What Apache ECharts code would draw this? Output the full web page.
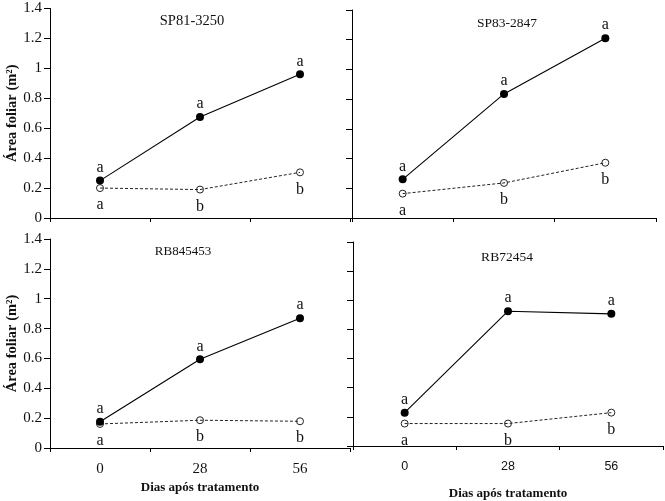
<!DOCTYPE html>
<html><head><meta charset="utf-8">
<script src="https://cdn.jsdelivr.net/npm/echarts@6/dist/echarts.min.js"></script>
<style>html,body{margin:0;padding:0;background:#fff}#c{width:665px;height:501px}</style>
</head><body><div id="c"></div>
<script>
var days = ['0', '28', '56'];
var yTicks = [0, 0.2, 0.4, 0.6, 0.8, 1, 1.2, 1.4];
var titles = ['SP81-3250', 'SP83-2847', 'RB845453', 'RB72454'];
var sp81Filled = [0.25, 0.675, 0.96];
var sp81Open = [0.2, 0.19, 0.305];
var sp83Filled = [0.26, 0.835, 1.21];
var sp83Open = [0.164, 0.236, 0.372];
var rb845Filled = [0.176, 0.594, 0.869];
var rb845Open = [0.161, 0.186, 0.179];
var rb72Filled = [0.229, 0.925, 0.907];
var rb72Open = [0.154, 0.154, 0.229];
var lettersFilled = ['a', 'a', 'a'];
var lettersOpen = ['a', 'b', 'b'];

var SERIF = '"Liberation Serif", "Times New Roman", serif';
var SANS = '"Liberation Sans", Arial, sans-serif';
var chart = echarts.init(document.getElementById('c'));

var grids = [
  {left: 50, top: 8.5, width: 300, height: 209.5},
  {left: 352, top: 10, width: 304, height: 208},
  {left: 50, top: 239, width: 300, height: 209},
  {left: 353, top: 242, width: 310, height: 206}
];
function xAx(i) {
  var bottom = i >= 2;
  return {
    type: 'category', gridIndex: i, data: days, boundaryGap: true,
    axisLine: {lineStyle: {color: '#000', width: 1}},
    axisTick: {show: true, length: 4, lineStyle: {color: '#000'}},
    axisLabel: {show: bottom, margin: i === 3 ? 14 : 14, color: '#111',
      fontFamily: i === 3 ? SANS : SERIF, fontSize: i === 3 ? 12.5 : 15},
    name: bottom ? 'Dias após tratamento' : '',
    nameLocation: 'middle', nameGap: i === 3 ? 41 : 33,
    nameTextStyle: {fontFamily: SERIF, fontWeight: 'bold', fontSize: 13, color: '#111'}
  };
}
function yAx(i) {
  var left = (i % 2) === 0;
  return {
    type: 'value', gridIndex: i, min: 0, max: 1.4, interval: 0.2,
    splitLine: {show: false},
    axisLine: {show: true, lineStyle: {color: '#000', width: 1}},
    axisTick: {show: true, length: 6, lineStyle: {color: '#000'}},
    axisLabel: {show: left, margin: 8, color: '#111', fontFamily: SERIF, fontSize: 15,
      formatter: function (v) { return String(Math.round(v * 10) / 10); }},
    name: left ? 'Área foliar (m²)' : '',
    nameLocation: 'middle', nameGap: 26, nameRotate: 90,
    nameTextStyle: {fontFamily: SERIF, fontWeight: 'bold', fontSize: 14.5, color: '#111'}
  };
}
function filledSeries(i, data) {
  return {
    type: 'line', xAxisIndex: i, yAxisIndex: i, data: data,
    symbol: 'circle', symbolSize: 8, showAllSymbol: true,
    lineStyle: {color: '#000', width: 1.1},
    itemStyle: {color: '#000'},
    label: {show: true, position: 'top', distance: 1, color: '#111',
      fontFamily: SERIF, fontSize: 16,
      formatter: function (p) { return lettersFilled[p.dataIndex]; }},
    z: 3, silent: true, animation: false
  };
}
function openSeries(i, data) {
  return {
    type: 'line', xAxisIndex: i, yAxisIndex: i, data: data,
    symbol: 'circle', symbolSize: 7, showAllSymbol: true,
    lineStyle: {color: '#222', width: 1, type: [3, 2]},
    itemStyle: {color: 'rgba(255,255,255,0)', borderColor: '#222', borderWidth: 1},
    label: {show: true, position: 'bottom', distance: 5, color: '#111',
      fontFamily: SERIF, fontSize: 16,
      formatter: function (p) { return lettersOpen[p.dataIndex]; }},
    z: 2, silent: true, animation: false
  };
}
var titleCfg = [
  {x: 192, y: 21, size: 14.5},
  {x: 507, y: 23, size: 13.5},
  {x: 183, y: 252, size: 13},
  {x: 507, y: 257, size: 13.5}
];
chart.setOption({
  animation: false,
  title: titleCfg.map(function (t, i) {
    return {text: titles[i], left: t.x, top: t.y, textAlign: 'center', textVerticalAlign: 'middle',
      padding: 0,
      textStyle: {fontFamily: SERIF, fontWeight: 'normal', fontSize: t.size, color: '#111'}};
  }),
  grid: grids,
  xAxis: [0, 1, 2, 3].map(xAx),
  yAxis: [0, 1, 2, 3].map(yAx),
  series: [
    filledSeries(0, sp81Filled), openSeries(0, sp81Open),
    filledSeries(1, sp83Filled), openSeries(1, sp83Open),
    filledSeries(2, rb845Filled), openSeries(2, rb845Open),
    filledSeries(3, rb72Filled), openSeries(3, rb72Open)
  ]
});
</script></body></html>
